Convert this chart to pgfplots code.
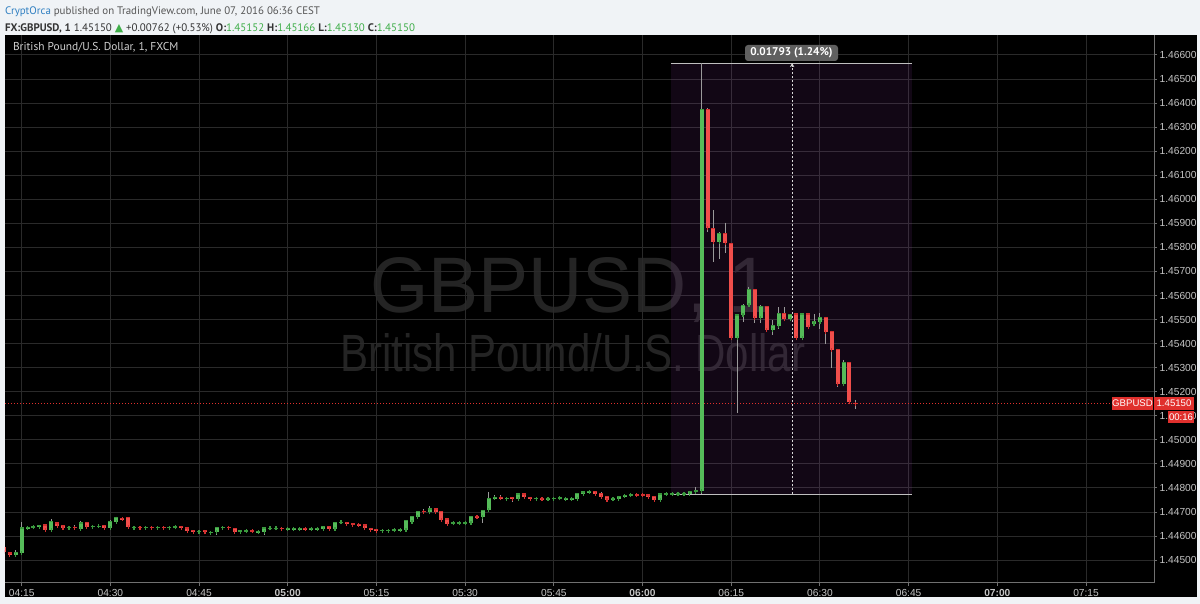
\documentclass[border=0pt]{standalone}
\usepackage{pgfplots}
\pgfplotsset{compat=1.18}
\usepackage{pgfplotstable}
\usepackage{fontspec}
\setmainfont{Liberation Sans}
\newfontfamily\ptsans{PT Sans}
\newfontfamily\dejavu{DejaVu Sans}
\usetikzlibrary{arrows.meta}

\definecolor{bgout}{HTML}{F0F3F6}
\definecolor{gridc}{HTML}{2A2A2A}
\definecolor{axc}{HTML}{707070}
\definecolor{tickl}{HTML}{C4C4C4}
\definecolor{upfill}{HTML}{55BB59}
\definecolor{upedge}{HTML}{3A9A3E}
\definecolor{dnfill}{HTML}{F04E4B}
\definecolor{dnedge}{HTML}{D32F2F}
\definecolor{wick}{HTML}{9A9A9A}
\definecolor{wm}{HTML}{242424}
\definecolor{meas}{HTML}{9C3FB0}
\definecolor{tvblue}{HTML}{2F7FC1}
\definecolor{tvgreen}{HTML}{3FAE49}
\definecolor{hdr}{HTML}{333333}
\definecolor{hdr2}{HTML}{555555}
\definecolor{lblred}{HTML}{E0302D}
\definecolor{mlbl}{HTML}{606060}

\pgfplotstableread{
t o h l c
14 1.44521 1.44542 1.44518 1.44533
15 1.44530 1.44658 1.44528 1.44634
16 1.44634 1.44640 1.44628 1.44635
17 1.44636 1.44640 1.44634 1.44638
18 1.44637 1.44645 1.44636 1.44643
20 1.44625 1.44671 1.44623 1.44659
23 1.44635 1.44637 1.44633 1.44636
25 1.44631 1.44664 1.44621 1.44654
27 1.44639 1.44641 1.44638 1.44640
28 1.44640 1.44645 1.44635 1.44641
30 1.44635 1.44666 1.44633 1.44660
31 1.44660 1.44681 1.44658 1.44677
34 1.44635 1.44637 1.44633 1.44636
36 1.44635 1.44636 1.44633 1.44636
38 1.44635 1.44637 1.44634 1.44636
40 1.44635 1.44637 1.44634 1.44636
41 1.44636 1.44639 1.44635 1.44638
45 1.44618 1.44621 1.44617 1.44620
47 1.44614 1.44617 1.44613 1.44616
48 1.44615 1.44637 1.44605 1.44635
49 1.44635 1.44638 1.44634 1.44637
52 1.44619 1.44622 1.44618 1.44621
53 1.44620 1.44622 1.44619 1.44621
55 1.44617 1.44619 1.44616 1.44618
56 1.44617 1.44635 1.44606 1.44634
57 1.44632 1.44634 1.44631 1.44633
58 1.44632 1.44634 1.44631 1.44633
60 1.44629 1.44631 1.44628 1.44630
61 1.44629 1.44631 1.44628 1.44630
62 1.44629 1.44631 1.44628 1.44630
64 1.44629 1.44634 1.44625 1.44630
65 1.44630 1.44635 1.44627 1.44631
66 1.44630 1.44641 1.44629 1.44640
68 1.44631 1.44658 1.44630 1.44657
69 1.44657 1.44659 1.44656 1.44658
76 1.44623 1.44625 1.44622 1.44624
77 1.44623 1.44625 1.44622 1.44624
78 1.44624 1.44626 1.44623 1.44625
79 1.44625 1.44627 1.44624 1.44626
80 1.44626 1.44665 1.44625 1.44664
81 1.44658 1.44683 1.44657 1.44682
82 1.44680 1.44704 1.44679 1.44703
84 1.44700 1.44723 1.44699 1.44713
88 1.44653 1.44655 1.44652 1.44654
89 1.44653 1.44655 1.44652 1.44654
90 1.44653 1.44655 1.44652 1.44654
91 1.44655 1.44681 1.44654 1.44680
93 1.44680 1.44709 1.44655 1.44708
94 1.44708 1.44784 1.44707 1.44757
95 1.44758 1.44770 1.44756 1.44759
97 1.44756 1.44758 1.44755 1.44757
99 1.44755 1.44776 1.44754 1.44775
102 1.44756 1.44762 1.44752 1.44757
104 1.44754 1.44756 1.44753 1.44755
105 1.44755 1.44758 1.44754 1.44757
106 1.44757 1.44762 1.44754 1.44758
107 1.44754 1.44756 1.44753 1.44755
108 1.44754 1.44756 1.44753 1.44755
109 1.44754 1.44778 1.44753 1.44777
110 1.44775 1.44784 1.44774 1.44783
111 1.44784 1.44790 1.44782 1.44785
115 1.44753 1.44757 1.44752 1.44756
116 1.44755 1.44766 1.44754 1.44765
117 1.44767 1.44769 1.44766 1.44768
118 1.44770 1.44772 1.44769 1.44771
123 1.44752 1.44776 1.44751 1.44775
124 1.44774 1.44776 1.44773 1.44775
125 1.44774 1.44776 1.44773 1.44775
126 1.44774 1.44776 1.44773 1.44775
127 1.44774 1.44776 1.44773 1.44775
128 1.44775 1.44785 1.44774 1.44784
129 1.44784 1.44805 1.44778 1.44787
130 1.44787 1.46566 1.44773 1.46374
133 1.45824 1.45862 1.45751 1.45859
136 1.45422 1.45522 1.45110 1.45519
137 1.45519 1.45563 1.45491 1.45560
138 1.45560 1.45637 1.45558 1.45626
140 1.45505 1.45560 1.45484 1.45553
142 1.45457 1.45498 1.45436 1.45477
143 1.45473 1.45551 1.45460 1.45526
145 1.45501 1.45524 1.45499 1.45522
147 1.45422 1.45525 1.45420 1.45523
149 1.45480 1.45523 1.45478 1.45491
150 1.45491 1.45526 1.45460 1.45509
154 1.45231 1.45332 1.45229 1.45321
}\up

\pgfplotstableread{
t o h l c
12 1.44555 1.44562 1.44530 1.44535
13 1.44530 1.44532 1.44518 1.44521
19 1.44646 1.44648 1.44620 1.44625
21 1.44654 1.44656 1.44642 1.44643
22 1.44643 1.44645 1.44634 1.44635
24 1.44636 1.44645 1.44625 1.44635
26 1.44657 1.44659 1.44636 1.44638
29 1.44643 1.44645 1.44633 1.44635
32 1.44673 1.44678 1.44668 1.44672
33 1.44677 1.44678 1.44635 1.44637
35 1.44636 1.44637 1.44633 1.44635
37 1.44636 1.44637 1.44634 1.44635
39 1.44636 1.44637 1.44634 1.44635
42 1.44641 1.44642 1.44634 1.44635
43 1.44634 1.44635 1.44620 1.44621
44 1.44624 1.44625 1.44616 1.44617
46 1.44622 1.44626 1.44612 1.44615
50 1.44636 1.44637 1.44633 1.44634
51 1.44632 1.44633 1.44617 1.44618
54 1.44621 1.44622 1.44619 1.44620
59 1.44633 1.44634 1.44630 1.44631
63 1.44631 1.44632 1.44628 1.44629
67 1.44640 1.44641 1.44630 1.44631
70 1.44657 1.44658 1.44649 1.44650
71 1.44650 1.44651 1.44645 1.44646
72 1.44647 1.44651 1.44644 1.44646
73 1.44646 1.44647 1.44632 1.44633
74 1.44633 1.44634 1.44625 1.44626
75 1.44629 1.44630 1.44621 1.44622
83 1.44703 1.44713 1.44690 1.44702
85 1.44713 1.44714 1.44699 1.44700
86 1.44703 1.44704 1.44667 1.44668
87 1.44671 1.44672 1.44650 1.44651
92 1.44681 1.44686 1.44672 1.44680
96 1.44759 1.44770 1.44754 1.44757
98 1.44762 1.44763 1.44740 1.44755
100 1.44775 1.44776 1.44761 1.44762
101 1.44762 1.44763 1.44754 1.44755
103 1.44756 1.44757 1.44753 1.44754
112 1.44785 1.44786 1.44774 1.44775
113 1.44777 1.44782 1.44762 1.44763
114 1.44763 1.44764 1.44751 1.44752
119 1.44771 1.44772 1.44769 1.44770
120 1.44771 1.44772 1.44769 1.44770
121 1.44771 1.44772 1.44761 1.44762
122 1.44765 1.44766 1.44751 1.44752
131 1.46374 1.46378 1.45863 1.45879
132 1.45879 1.45955 1.45741 1.45824
134 1.45859 1.45903 1.45778 1.45817
135 1.45817 1.45820 1.45420 1.45422
139 1.45626 1.45628 1.45487 1.45505
141 1.45553 1.45556 1.45452 1.45457
144 1.45526 1.45551 1.45499 1.45501
146 1.45523 1.45525 1.45420 1.45422
148 1.45523 1.45525 1.45466 1.45468
151 1.45509 1.45511 1.45398 1.45450
152 1.45452 1.45454 1.45297 1.45373
153 1.45376 1.45378 1.45218 1.45231
155 1.45321 1.45323 1.45154 1.45156
156 1.45152 1.45166 1.45130 1.45150
}\dn

\begin{document}
\begin{tikzpicture}
\fill[bgout] (-2.5pt,-10.5pt) rectangle (597.5pt,291.5pt);
\useasboundingbox (-2.5pt,-10.5pt) rectangle (597.5pt,291.5pt);
\fill[black] (0pt,-7pt) rectangle (596pt,274pt);
% watermark
\node[anchor=base west, inner sep=0, text=wm] at (182.5pt,135pt) {\resizebox{200pt}{27.5pt}{GBPUSD, 1}};
\node[anchor=base west, inner sep=0, text=wm] at (167.5pt,105.5pt) {\resizebox{232.5pt}{19pt}{British Pound/U.S. Dollar}};

\begin{axis}[
  scale only axis, width=574.5pt, height=274pt,
  xmin=12.18, xmax=206.5, ymin=1.44405, ymax=1.46683,
  axis line style={draw=none},
  clip mode=individual,
  xtick={15,30,45,60,75,90,105,120,135,150,165,180,195},
  xticklabels={04:15,04:30,04:45,\textbf{05:00},05:15,05:30,05:45,\textbf{06:00},06:15,06:30,06:45,\textbf{07:00},07:15},
  ytick={1.445,1.446,1.447,1.448,1.449,1.450,1.451,1.452,1.453,1.454,1.455,1.456,1.457,1.458,1.459,1.460,1.461,1.462,1.463,1.464,1.465,1.466},
  scaled y ticks=false,
  yticklabel pos=right, ytick pos=right, xtick pos=bottom,
  grid=major, major grid style={gridc, line width=0.5pt},
  tick align=outside, major tick length=1.5pt,
  tick style={axc, line width=0.5pt},
  /pgf/number format/assume math mode=true,
  yticklabel style={/pgf/number format/fixed, /pgf/number format/fixed zerofill, /pgf/number format/precision=5, anchor=west, xshift=-2.2pt},
  xticklabel style={yshift=1.8pt},
  ticklabel style={font=\fontsize{5.1}{5.5}\selectfont, text=tickl},
]
% measurement area
\fill[meas, opacity=0.12] (axis cs:124.8,1.44773) rectangle (axis cs:165.6,1.46566);
\draw[white!75!black, line width=0.5pt] (axis cs:124.8,1.46566) -- (axis cs:165.6,1.46566);
\draw[white!75!black, line width=0.5pt] (axis cs:124.8,1.44773) -- (axis cs:165.6,1.44773);
\draw[white!85!black, line width=0.4pt, dash pattern=on 1pt off 1pt, -{Stealth[length=2pt,width=2.2pt]}] (axis cs:145.3,1.44773) -- (axis cs:145.3,1.46566);
% last price line
\draw[lblred, line width=0.4pt, dash pattern=on 0.5pt off 1pt] (axis cs:12.18,1.4515) -- (axis cs:206.5,1.4515);

% wicks
\addplot[draw=none, mark=none, forget plot, error bars/.cd, y dir=minus, y explicit,
  error bar style={draw=wick, line width=0.5pt}, error mark=none]
  table[x=t, y=h, y error expr={\thisrow{h}-\thisrow{l}}] {\up};
\addplot[draw=none, mark=none, forget plot, error bars/.cd, y dir=minus, y explicit,
  error bar style={draw=wick, line width=0.5pt}, error mark=none]
  table[x=t, y=h, y error expr={\thisrow{h}-\thisrow{l}}] {\dn};
% bodies
\addplot[only marks, mark=-, mark size=1pt, mark options={draw=upedge, line width=0.6pt},
  error bars/.cd, y dir=minus, y explicit,
  error bar style={draw=upfill, line width=2pt},
  error mark=-, error mark options={draw=upedge, line width=0.6pt, mark size=1pt}]
  table[x=t, y=c, y error expr={\thisrow{c}-\thisrow{o}}] {\up};
\addplot[only marks, mark=-, mark size=1pt, mark options={draw=dnedge, line width=0.6pt},
  error bars/.cd, y dir=minus, y explicit,
  error bar style={draw=dnfill, line width=2pt},
  error mark=-, error mark options={draw=dnedge, line width=0.6pt, mark size=1pt}]
  table[x=t, y=o, y error expr={\thisrow{o}-\thisrow{c}}] {\dn};

\draw[axc, line width=0.5pt] (rel axis cs:0,0) -- (rel axis cs:1,0) -- (rel axis cs:1,1);
\end{axis}

% measurement label
\node[fill=mlbl, rounded corners=1.5pt, text=white, inner sep=0, minimum width=46.5pt, minimum height=8pt,
  font=\ptsans\bfseries\fontsize{5.6}{6}\selectfont] at (393.25pt,265pt) {0.01793 (1.24\%)};
% price labels
\node[fill=lblred, text=white, inner sep=0, minimum width=20.5pt, minimum height=6.5pt, font=\fontsize{4.8}{5}\selectfont] at (563.75pt,89.65pt) {GBPUSD};
\node[fill=lblred, text=white, inner sep=0, minimum width=20pt, minimum height=6.5pt, font=\fontsize{4.8}{5}\selectfont] at (584.5pt,89.65pt) {1.45150};
\node[fill=lblred, text=white, inner sep=0, minimum width=13pt, minimum height=6pt, font=\fontsize{4.8}{5}\selectfont] at (588pt,83pt) {00:16};

% header
\node[anchor=west, inner sep=0, text=hdr2] at (-0.2pt,285.5pt) {\resizebox{157.5pt}{!}{\ptsans{\color{tvblue}CryptOrca} published on TradingView.com, June 07, 2016 06:36 CEST}};
\node[anchor=west, inner sep=0, text=hdr] at (-0.2pt,277pt) {\resizebox{205pt}{!}{\ptsans{\bfseries FX:GBPUSD, 1} 1.45150 {\dejavu\color{tvgreen}▲} +0.00762 (+0.53\%) {\bfseries O:}{\color{tvgreen}1.45152} {\bfseries H:}{\color{tvgreen}1.45166} {\bfseries L:}{\color{tvgreen}1.45130} {\bfseries C:}{\color{tvgreen}1.45150}}};
\node[anchor=west, inner sep=0, text=white!82!black] at (3.8pt,268pt) {\resizebox{82.7pt}{!}{\ptsans British Pound/U.S. Dollar, 1, FXCM}};
\end{tikzpicture}
\end{document}
